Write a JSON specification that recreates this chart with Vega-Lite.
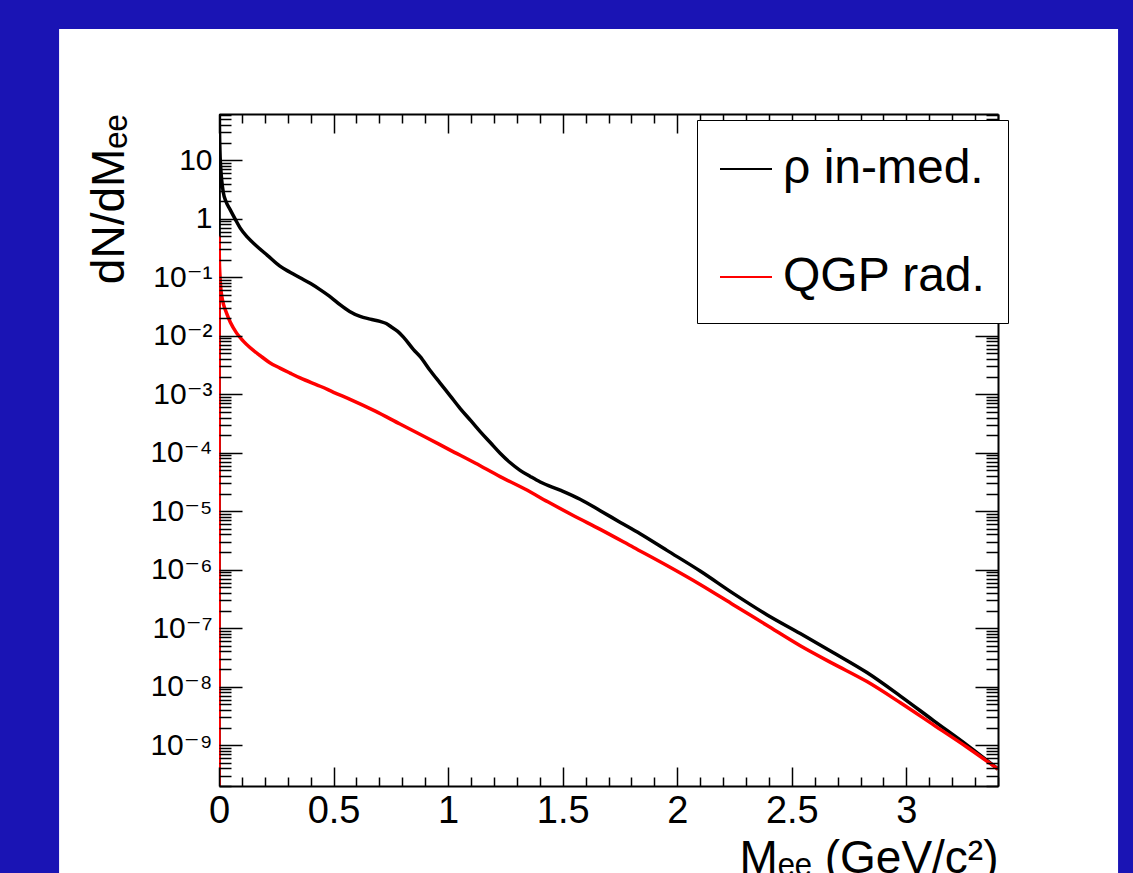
{
  "$schema": "https://vega.github.io/schema/vega-lite/v6.json",
  "width": 779,
  "height": 672,
  "autosize": {"type": "none"},
  "padding": {"left": 219, "top": 114, "right": 135, "bottom": 87},
  "background": "#1a14b4",
  "config": {
    "view": {"stroke": null},
    "font": "Liberation Sans",
    "axis": {"grid": false, "labelFlush": false, "labelColor": "black", "titleColor": "black", "tickColor": "black", "domainColor": "black", "labelFont": "Liberation Sans, DejaVu Sans", "titleFont": "Liberation Sans, DejaVu Sans", "titleFontWeight": "normal"}
  },
  "data": {
    "values": [
      {"M": 0, "v": 0.000000000001, "series": "ρ in-med."},
      {"M": 0.0005, "v": 300, "series": "ρ in-med."},
      {"M": 0.002, "v": 40, "series": "ρ in-med."},
      {"M": 0.004, "v": 15, "series": "ρ in-med."},
      {"M": 0.007, "v": 8.0, "series": "ρ in-med."},
      {"M": 0.012, "v": 4.5, "series": "ρ in-med."},
      {"M": 0.019, "v": 2.8, "series": "ρ in-med."},
      {"M": 0.03, "v": 2.0, "series": "ρ in-med."},
      {"M": 0.048, "v": 1.45, "series": "ρ in-med."},
      {"M": 0.07, "v": 1.0, "series": "ρ in-med."},
      {"M": 0.092, "v": 0.70, "series": "ρ in-med."},
      {"M": 0.125, "v": 0.48, "series": "ρ in-med."},
      {"M": 0.165, "v": 0.34, "series": "ρ in-med."},
      {"M": 0.21, "v": 0.24, "series": "ρ in-med."},
      {"M": 0.266, "v": 0.155, "series": "ρ in-med."},
      {"M": 0.31, "v": 0.122, "series": "ρ in-med."},
      {"M": 0.354, "v": 0.098, "series": "ρ in-med."},
      {"M": 0.40, "v": 0.078, "series": "ρ in-med."},
      {"M": 0.441, "v": 0.0615, "series": "ρ in-med."},
      {"M": 0.49, "v": 0.045, "series": "ρ in-med."},
      {"M": 0.528, "v": 0.034, "series": "ρ in-med."},
      {"M": 0.57, "v": 0.026, "series": "ρ in-med."},
      {"M": 0.616, "v": 0.0214, "series": "ρ in-med."},
      {"M": 0.66, "v": 0.0193, "series": "ρ in-med."},
      {"M": 0.703, "v": 0.0176, "series": "ρ in-med."},
      {"M": 0.73, "v": 0.0162, "series": "ρ in-med."},
      {"M": 0.754, "v": 0.0140, "series": "ρ in-med."},
      {"M": 0.78, "v": 0.0119, "series": "ρ in-med."},
      {"M": 0.805, "v": 0.0095, "series": "ρ in-med."},
      {"M": 0.849, "v": 0.0058, "series": "ρ in-med."},
      {"M": 0.878, "v": 0.0044, "series": "ρ in-med."},
      {"M": 0.92, "v": 0.0026, "series": "ρ in-med."},
      {"M": 0.965, "v": 0.00155, "series": "ρ in-med."},
      {"M": 1.01, "v": 0.00093, "series": "ρ in-med."},
      {"M": 1.052, "v": 0.000575, "series": "ρ in-med."},
      {"M": 1.10, "v": 0.00035, "series": "ρ in-med."},
      {"M": 1.14, "v": 0.00023, "series": "ρ in-med."},
      {"M": 1.185, "v": 0.000148, "series": "ρ in-med."},
      {"M": 1.227, "v": 0.000098, "series": "ρ in-med."},
      {"M": 1.27, "v": 0.000068, "series": "ρ in-med."},
      {"M": 1.314, "v": 0.000050, "series": "ρ in-med."},
      {"M": 1.36, "v": 0.000039, "series": "ρ in-med."},
      {"M": 1.402, "v": 0.0000316, "series": "ρ in-med."},
      {"M": 1.489, "v": 0.0000229, "series": "ρ in-med."},
      {"M": 1.576, "v": 0.0000160, "series": "ρ in-med."},
      {"M": 1.664, "v": 0.0000102, "series": "ρ in-med."},
      {"M": 1.75, "v": 0.0000065, "series": "ρ in-med."},
      {"M": 1.838, "v": 0.00000412, "series": "ρ in-med."},
      {"M": 1.955, "v": 0.00000214, "series": "ρ in-med."},
      {"M": 2.10, "v": 0.00000095, "series": "ρ in-med."},
      {"M": 2.246, "v": 0.00000039, "series": "ρ in-med."},
      {"M": 2.391, "v": 0.00000017, "series": "ρ in-med."},
      {"M": 2.537, "v": 0.000000081, "series": "ρ in-med."},
      {"M": 2.682, "v": 0.000000038, "series": "ρ in-med."},
      {"M": 2.828, "v": 0.0000000174, "series": "ρ in-med."},
      {"M": 2.974, "v": 0.0000000069, "series": "ρ in-med."},
      {"M": 3.12, "v": 0.0000000026, "series": "ρ in-med."},
      {"M": 3.265, "v": 0.000000001, "series": "ρ in-med."},
      {"M": 3.4, "v": 0.00000000039, "series": "ρ in-med."},
      {"M": 0, "v": 0.000000000001, "series": "QGP rad."},
      {"M": 0.0003, "v": 0.48, "series": "QGP rad."},
      {"M": 0.0015, "v": 0.2, "series": "QGP rad."},
      {"M": 0.004, "v": 0.11, "series": "QGP rad."},
      {"M": 0.007, "v": 0.07, "series": "QGP rad."},
      {"M": 0.012, "v": 0.048, "series": "QGP rad."},
      {"M": 0.02, "v": 0.034, "series": "QGP rad."},
      {"M": 0.033, "v": 0.0245, "series": "QGP rad."},
      {"M": 0.05, "v": 0.0168, "series": "QGP rad."},
      {"M": 0.077, "v": 0.0111, "series": "QGP rad."},
      {"M": 0.105, "v": 0.0082, "series": "QGP rad."},
      {"M": 0.135, "v": 0.0063, "series": "QGP rad."},
      {"M": 0.179, "v": 0.0046, "series": "QGP rad."},
      {"M": 0.22, "v": 0.0035, "series": "QGP rad."},
      {"M": 0.266, "v": 0.0028, "series": "QGP rad."},
      {"M": 0.31, "v": 0.0023, "series": "QGP rad."},
      {"M": 0.354, "v": 0.0019, "series": "QGP rad."},
      {"M": 0.45, "v": 0.00133, "series": "QGP rad."},
      {"M": 0.5, "v": 0.00108, "series": "QGP rad."},
      {"M": 0.572, "v": 0.00082, "series": "QGP rad."},
      {"M": 0.68, "v": 0.00052, "series": "QGP rad."},
      {"M": 0.79, "v": 0.00031, "series": "QGP rad."},
      {"M": 0.9, "v": 0.000186, "series": "QGP rad."},
      {"M": 1.009, "v": 0.000111, "series": "QGP rad."},
      {"M": 1.12, "v": 0.000066, "series": "QGP rad."},
      {"M": 1.227, "v": 0.000039, "series": "QGP rad."},
      {"M": 1.335, "v": 0.000024, "series": "QGP rad."},
      {"M": 1.435, "v": 0.0000145, "series": "QGP rad."},
      {"M": 1.55, "v": 0.0000083, "series": "QGP rad."},
      {"M": 1.664, "v": 0.0000049, "series": "QGP rad."},
      {"M": 1.81, "v": 0.0000024, "series": "QGP rad."},
      {"M": 1.955, "v": 0.00000118, "series": "QGP rad."},
      {"M": 2.1, "v": 0.00000056, "series": "QGP rad."},
      {"M": 2.246, "v": 0.00000025, "series": "QGP rad."},
      {"M": 2.391, "v": 0.000000112, "series": "QGP rad."},
      {"M": 2.537, "v": 0.00000005, "series": "QGP rad."},
      {"M": 2.682, "v": 0.0000000245, "series": "QGP rad."},
      {"M": 2.828, "v": 0.0000000122, "series": "QGP rad."},
      {"M": 2.974, "v": 0.0000000053, "series": "QGP rad."},
      {"M": 3.12, "v": 0.0000000022, "series": "QGP rad."},
      {"M": 3.265, "v": 0.00000000092, "series": "QGP rad."},
      {"M": 3.4, "v": 0.00000000039, "series": "QGP rad."}
    ]
  },
  "layer": [
    {
      "data": {"values": [{"panel": "frame"}]},
      "mark": {"type": "rect", "color": "white", "clip": false},
      "encoding": {
        "x": {"datum": -0.698, "type": "quantitative", "scale": {"domain": [0, 3.4], "nice": false, "zero": false},
          "axis": {"orient": "top", "zindex": 1, "values": [0,0.1,0.2,0.3,0.4,0.5,0.6,0.7,0.8,0.9,1,1.1,1.2,1.3,1.4,1.5,1.6,1.7,1.8,1.9,2,2.1,2.2,2.3,2.4,2.5,2.6,2.7,2.8,2.9,3,3.1,3.2,3.3,3.4], "labels": false, "title": null, "domain": true, "domainWidth": 2,
            "tickWidth": 1.5, "tickSize": {"condition": {"test": "abs(datum.value*2 - round(datum.value*2)) < 0.01", "value": -19}, "value": -9}}},
        "x2": {"datum": 3.924},
        "y": {"datum": 1762, "type": "quantitative", "scale": {"type": "log", "domain": [2e-10, 62], "nice": false, "zero": false},
          "axis": {"orient": "right", "zindex": 1, "values": [2e-10,3e-10,4e-10,5e-10,6e-10,7e-10,8e-10,9e-10,1e-9,2e-9,3e-9,4e-9,5e-9,6e-9,7e-9,8e-9,9e-9,1e-8,2e-8,3e-8,4e-8,5e-8,6e-8,7e-8,8e-8,9e-8,1e-7,2e-7,3e-7,4e-7,5e-7,6e-7,7e-7,8e-7,9e-7,1e-6,2e-6,3e-6,4e-6,5e-6,6e-6,7e-6,8e-6,9e-6,1e-5,2e-5,3e-5,4e-5,5e-5,6e-5,7e-5,8e-5,9e-5,1e-4,2e-4,3e-4,4e-4,5e-4,6e-4,7e-4,8e-4,9e-4,1e-3,2e-3,3e-3,4e-3,5e-3,6e-3,7e-3,8e-3,9e-3,0.01,0.02,0.03,0.04,0.05,0.06,0.07,0.08,0.09,0.1,0.2,0.3,0.4,0.5,0.6,0.7,0.8,0.9,1,2,3,4,5,6,7,8,9,10,20,30,40,50,60], "labels": false, "title": null, "domain": true, "domainWidth": 2,
            "tickWidth": 1.5, "tickSize": {"condition": {"test": "abs(log(datum.value)/LN10 - round(log(datum.value)/LN10)) < 0.001", "value": -23}, "value": -12}}},
        "y2": {"datum": 1e-13}
      }
    },
    {
      "transform": [{"filter": "datum.series === 'ρ in-med.'"}],
      "mark": {"type": "line", "strokeWidth": 3.5, "clip": true, "interpolate": "monotone"},
      "encoding": {
        "x": {"field": "M", "type": "quantitative",
          "axis": {"orient": "bottom", "zindex": 1, "values": [0, 0.5, 1, 1.5, 2, 2.5, 3], "format": "~g", "ticks": false, "domain": true, "domainWidth": 2, "labelFlush": false,
            "labelFontSize": 38, "labelPadding": 6, "title": "Mₑₑ (GeV/c²)", "titleFontSize": 46, "titleAnchor": "end", "titlePadding": 6}},
        "y": {"field": "v", "type": "quantitative",
          "axis": {"orient": "left", "zindex": 1, "values": [1e-9,1e-8,1e-7,1e-6,1e-5,1e-4,1e-3,0.01,0.1,1,10], "ticks": false, "domain": false, "labelFlush": false,
            "labelFontSize": 30, "labelPadding": 7,
            "labelExpr": "datum.value > 5 ? '10' : datum.value > 0.5 ? '1' : '10⁻' + ['','¹','²','³','⁴','⁵','⁶','⁷','⁸','⁹'][round(-log(datum.value)/LN10)]",
            "title": "dN/dMₑₑ", "titleFontSize": 46, "titleAnchor": "end", "titlePadding": 16}},
        "color": {"field": "series", "type": "nominal",
          "scale": {"domain": ["ρ in-med.", "QGP rad."], "range": ["black", "#ff0000"]},
          "legend": {"orient": "none", "legendX": 478, "legendY": 6, "title": null, "symbolType": "stroke", "symbolStrokeWidth": 2, "symbolSize": 2704,
            "labelFontSize": 48, "labelFont": "Liberation Sans", "labelColor": "black", "labelLimit": 0, "labelOffset": 10,
            "fillColor": "white", "strokeColor": "black", "padding": 22, "rowPadding": 57, "zindex": 2}}
      }
    },
    {
      "transform": [{"filter": "datum.series === 'QGP rad.'"}],
      "mark": {"type": "line", "strokeWidth": 3.5, "clip": true, "interpolate": "monotone"},
      "encoding": {
        "x": {"field": "M", "type": "quantitative",
          "axis": {"orient": "bottom", "zindex": 1, "values": [0,0.1,0.2,0.3,0.4,0.5,0.6,0.7,0.8,0.9,1,1.1,1.2,1.3,1.4,1.5,1.6,1.7,1.8,1.9,2,2.1,2.2,2.3,2.4,2.5,2.6,2.7,2.8,2.9,3,3.1,3.2,3.3,3.4], "labels": false, "title": null, "domain": false,
            "tickWidth": 1.5, "tickSize": {"condition": {"test": "abs(datum.value*2 - round(datum.value*2)) < 0.01", "value": -19}, "value": -9}}},
        "y": {"field": "v", "type": "quantitative",
          "axis": {"orient": "left", "zindex": 1, "values": [2e-10,3e-10,4e-10,5e-10,6e-10,7e-10,8e-10,9e-10,1e-9,2e-9,3e-9,4e-9,5e-9,6e-9,7e-9,8e-9,9e-9,1e-8,2e-8,3e-8,4e-8,5e-8,6e-8,7e-8,8e-8,9e-8,1e-7,2e-7,3e-7,4e-7,5e-7,6e-7,7e-7,8e-7,9e-7,1e-6,2e-6,3e-6,4e-6,5e-6,6e-6,7e-6,8e-6,9e-6,1e-5,2e-5,3e-5,4e-5,5e-5,6e-5,7e-5,8e-5,9e-5,1e-4,2e-4,3e-4,4e-4,5e-4,6e-4,7e-4,8e-4,9e-4,1e-3,2e-3,3e-3,4e-3,5e-3,6e-3,7e-3,8e-3,9e-3,0.01,0.02,0.03,0.04,0.05,0.06,0.07,0.08,0.09,0.1,0.2,0.3,0.4,0.5,0.6,0.7,0.8,0.9,1,2,3,4,5,6,7,8,9,10,20,30,40,50,60], "labels": false, "title": null, "domain": false,
            "tickWidth": 1.5, "tickSize": {"condition": {"test": "abs(log(datum.value)/LN10 - round(log(datum.value)/LN10)) < 0.001", "value": -23}, "value": -12}}},
        "color": {"field": "series", "type": "nominal"}
      }
    }
  ],
  "resolve": {"axis": {"x": "independent", "y": "independent"}}
}
